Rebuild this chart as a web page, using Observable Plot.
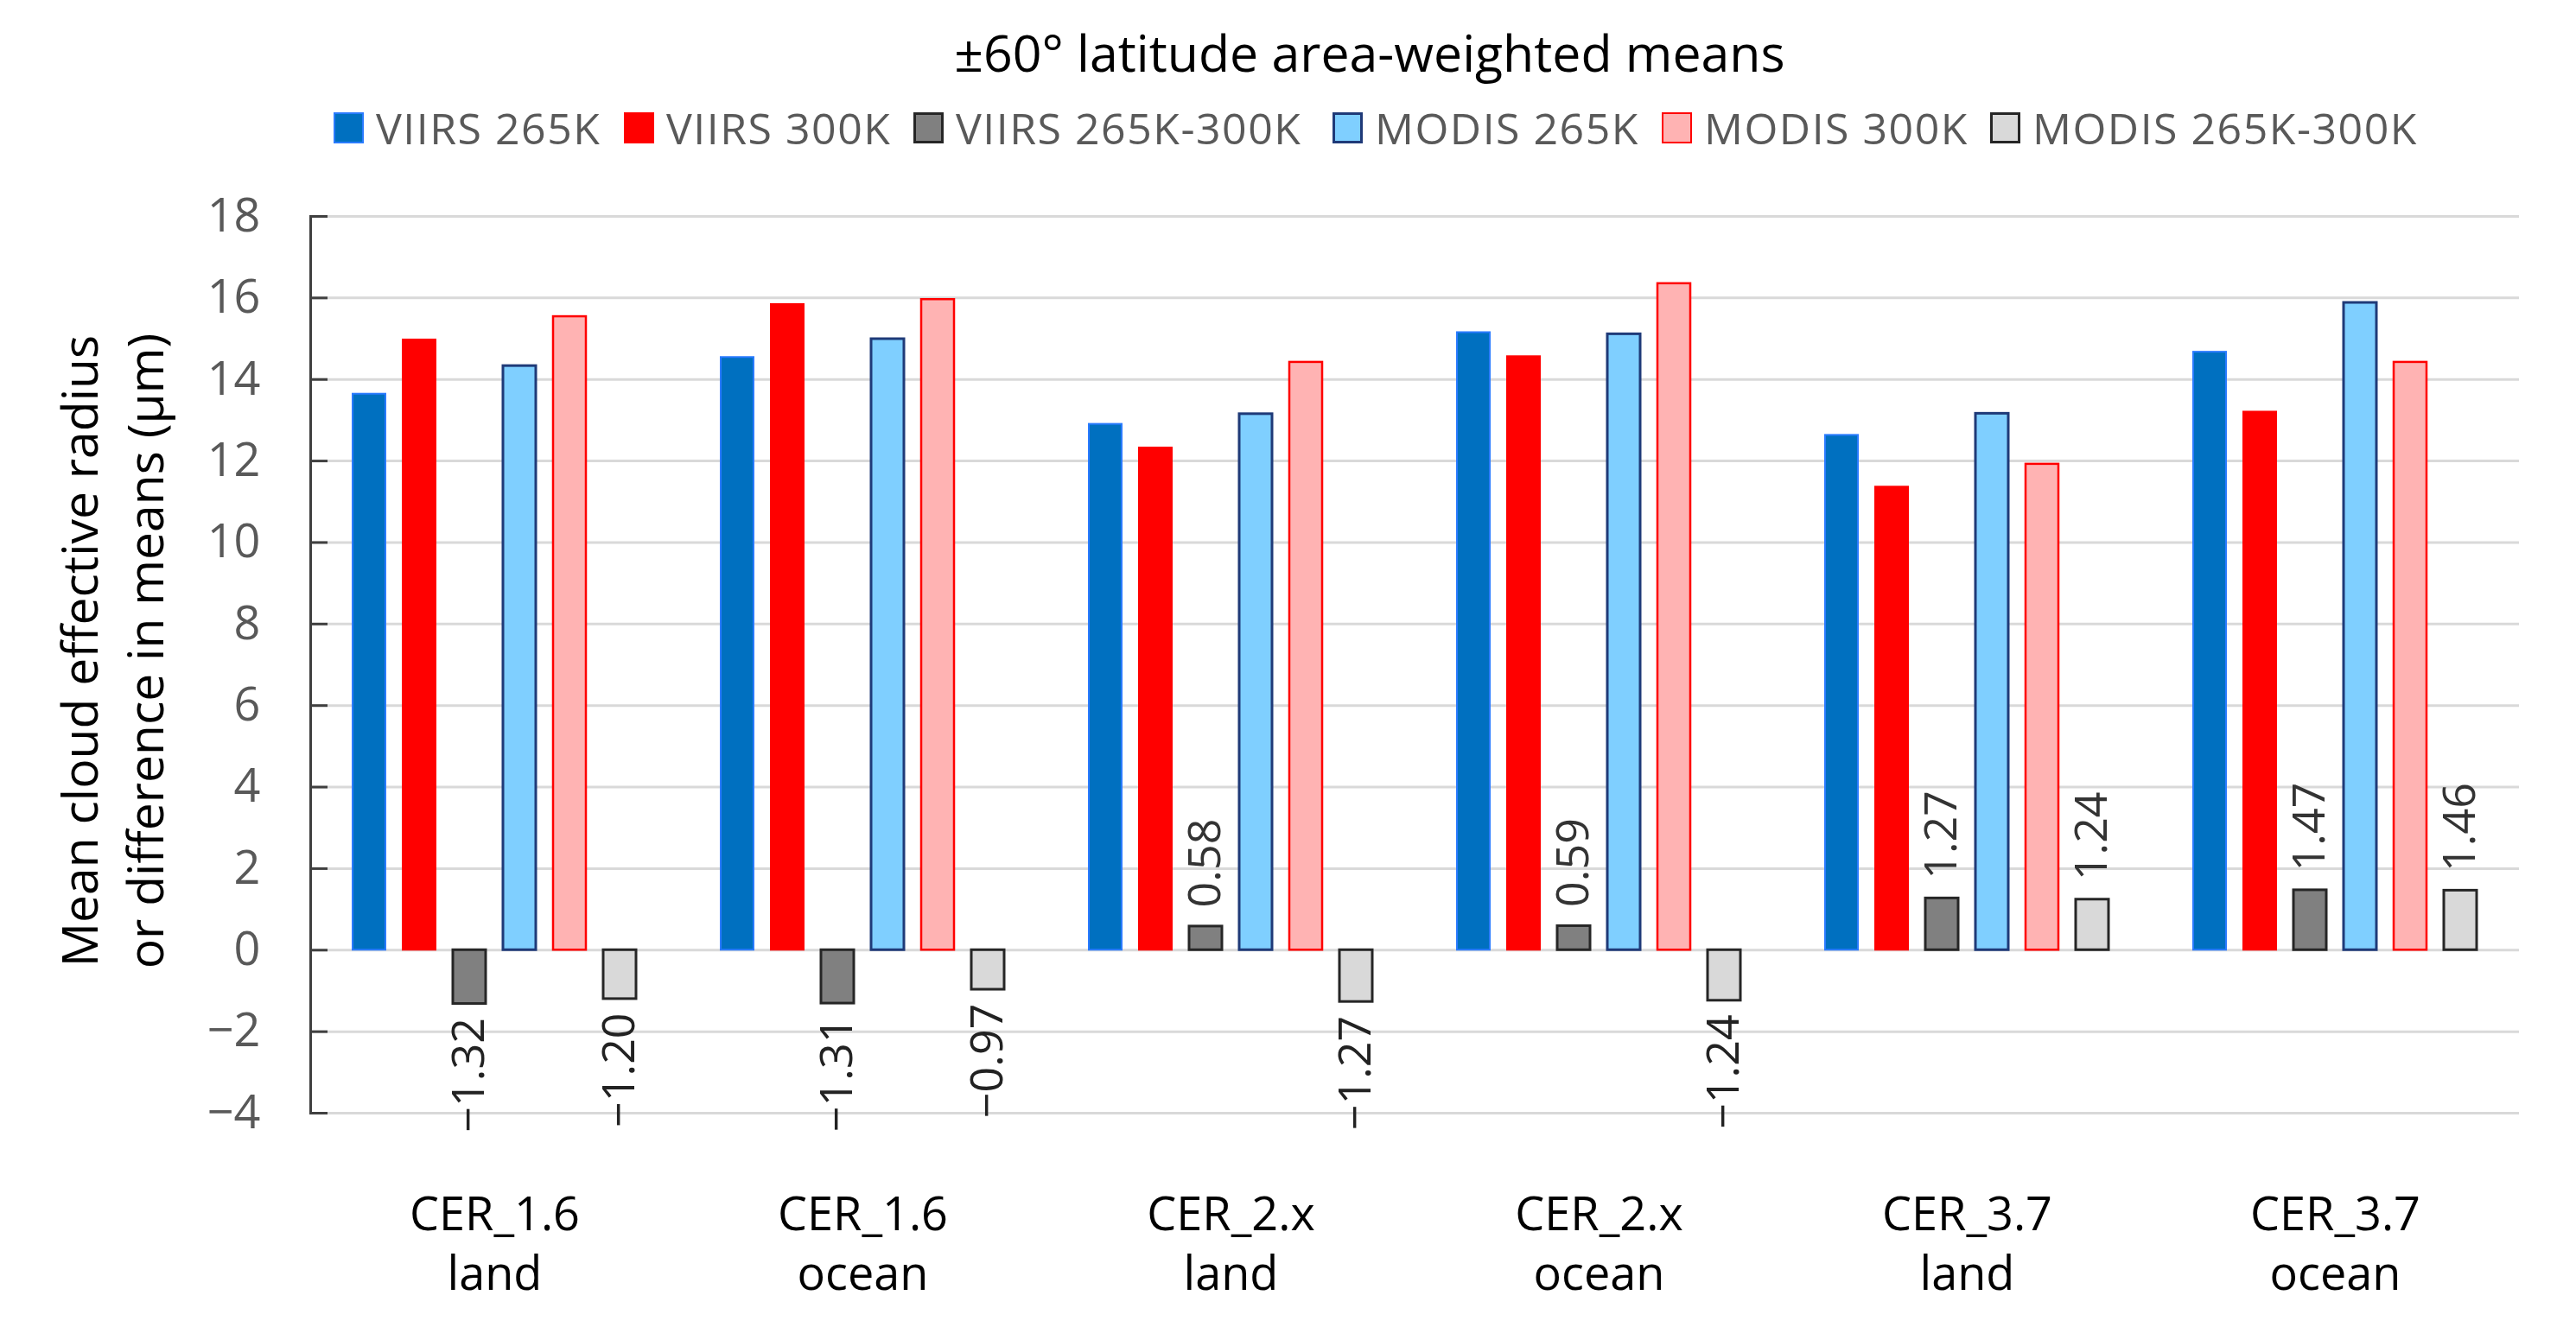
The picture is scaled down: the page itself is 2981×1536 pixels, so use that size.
<!DOCTYPE html>
<html>
<head>
<meta charset="utf-8">
<script src="https://cdn.jsdelivr.net/npm/d3@7"></script>
<script src="https://cdn.jsdelivr.net/npm/@observablehq/plot@0.6"></script>
<style>
  body { margin: 0; background: #fff; font-family: "Open Sans", sans-serif; }
  #wrap { position: relative; width: 2981px; height: 1536px; overflow: hidden; }
  #title { position: absolute; top: 31px; left: 1585px; transform: translateX(-50%); white-space: nowrap;
           font-size: 59px; line-height: 59px; color: #000; }
  .item { position: absolute; top: 130px; height: 36px; display: flex; align-items: center; white-space: nowrap; }
  .sw { width: 35px; height: 36px; box-sizing: border-box; }
  .lt { margin-left: 14px; font-size: 50px; letter-spacing: 1.5px; line-height: 36px; color: #595959; }
  #chart { position: absolute; top: 200px; left: 0; }
</style>
</head>
<body>
<div id="wrap">
  <div id="title">±60° latitude area-weighted means</div>
  <div id="legend"></div>
  <div id="chart"></div>
</div>
<script>
// ---- data ----
const categories = ["CER_1.6\nland", "CER_1.6\nocean", "CER_2.x\nland", "CER_2.x\nocean", "CER_3.7\nland", "CER_3.7\nocean"];
const seriesNames = ["VIIRS 265K", "VIIRS 300K", "VIIRS 265K-300K", "MODIS 265K", "MODIS 300K", "MODIS 265K-300K"];
const viirs265 = [13.64, 14.54, 12.90, 15.15, 12.63, 14.67];
const viirs300 = [14.97, 15.84, 12.32, 14.56, 11.36, 13.20];
const viirsDiff = [-1.32, -1.31, 0.58, 0.59, 1.27, 1.47];
const modis265 = [14.33, 14.99, 13.15, 15.11, 13.16, 15.88];
const modis300 = [15.54, 15.96, 14.42, 16.35, 11.92, 14.42];
const modisDiff = [-1.20, -0.97, -1.27, -1.24, 1.24, 1.46];
const yTicks = [-4, -2, 0, 2, 4, 6, 8, 10, 12, 14, 16, 18];
const labeledSeries = ["VIIRS 265K-300K", "MODIS 265K-300K"];
const yLabel = "Mean cloud effective radius\nor difference in means (µm)";

// ---- styles ----
const fills = ["#0070C0", "#FF0000", "#808080", "#7FCFFF", "#FFB3B3", "#D9D9D9"];
const strokes = ["#2A7BFF", "#FF0000", "#262626", "#1F3A78", "#FF0000", "#262626"];
const strokeWidths = [2, 2, 3, 3, 2.5, 3];
const legendX = [386, 722, 1057, 1542, 1923, 2303];

const seriesValues = [viirs265, viirs300, viirsDiff, modis265, modis300, modisDiff];
const rows = seriesNames.flatMap((s, i) =>
  seriesValues[i].map((v, j) => ({category: categories[j], series: s, value: v})));

// legend
const legend = document.getElementById("legend");
seriesNames.forEach((s, i) => {
  const it = document.createElement("div");
  it.className = "item";
  it.style.left = legendX[i] + "px";
  const sw = document.createElement("div");
  sw.className = "sw";
  sw.style.background = fills[i];
  sw.style.border = `${Math.min(strokeWidths[i], 3)}px solid ${strokes[i]}`;
  const t = document.createElement("span");
  t.className = "lt";
  t.textContent = s;
  it.append(sw, t);
  legend.append(it);
});

const fmt = d3.format(".2f");
const diffRows = rows.filter(d => labeledSeries.includes(d.series));

const chart = Plot.plot({
  width: 2981,
  height: 1336,
  marginTop: 50,
  marginBottom: 248,
  marginLeft: 358,
  marginRight: 65,
  style: {fontFamily: "Open Sans, sans-serif", background: "transparent"},
  fx: {domain: categories, padding: 0, label: null, axis: null},
  x: {domain: seriesNames, paddingInner: 0.343, paddingOuter: 0.81, axis: null},
  y: {domain: [-4, 18], label: null, axis: null},
  marks: [
    Plot.gridY(yTicks, {stroke: "#d9d9d9", strokeOpacity: 1, strokeWidth: 3}),
    ...seriesNames.map((s, i) => Plot.barY(rows.filter(d => d.series === s), {
      fx: "category", x: "series", y: "value",
      fill: fills[i], stroke: strokes[i], strokeWidth: strokeWidths[i]
    })),
    Plot.text(diffRows.filter(d => d.value >= 0), {
      fx: "category", x: "series", y: "value", text: d => fmt(d.value),
      rotate: -90, textAnchor: "start", dy: -22, fontSize: 52, fill: "#333"
    }),
    Plot.text(diffRows.filter(d => d.value < 0), {
      fx: "category", x: "series", y: "value", text: d => fmt(d.value),
      rotate: -90, textAnchor: "end", dy: 16, fontSize: 52, fill: "#222"
    }),
    Plot.frame({anchor: "left", facetAnchor: "left", stroke: "#404040", strokeWidth: 3}),
    Plot.axisY(yTicks, {anchor: "left", tickSize: 19, dx: 20, tickFormat: () => "", label: null,
      stroke: "#404040", strokeWidth: 3}),
    Plot.axisY(yTicks, {anchor: "left", tickSize: 0, tickPadding: 58, fontSize: 54, fill: "#595959", label: null}),
    Plot.text([yLabel], {frameAnchor: "left", facetAnchor: "left", rotate: -90, dx: -233, dy: -16,
      textAnchor: "middle", lineAnchor: "middle", lineHeight: 1.33, fontSize: 57, fill: "#000"}),
    Plot.axisFx({anchor: "bottom", tickSize: 0, tickPadding: 86, fontSize: 54, lineHeight: 1.28,
      label: null, fill: "#000"})
  ]
});
document.getElementById("chart").append(chart);
</script>
</body>
</html>
